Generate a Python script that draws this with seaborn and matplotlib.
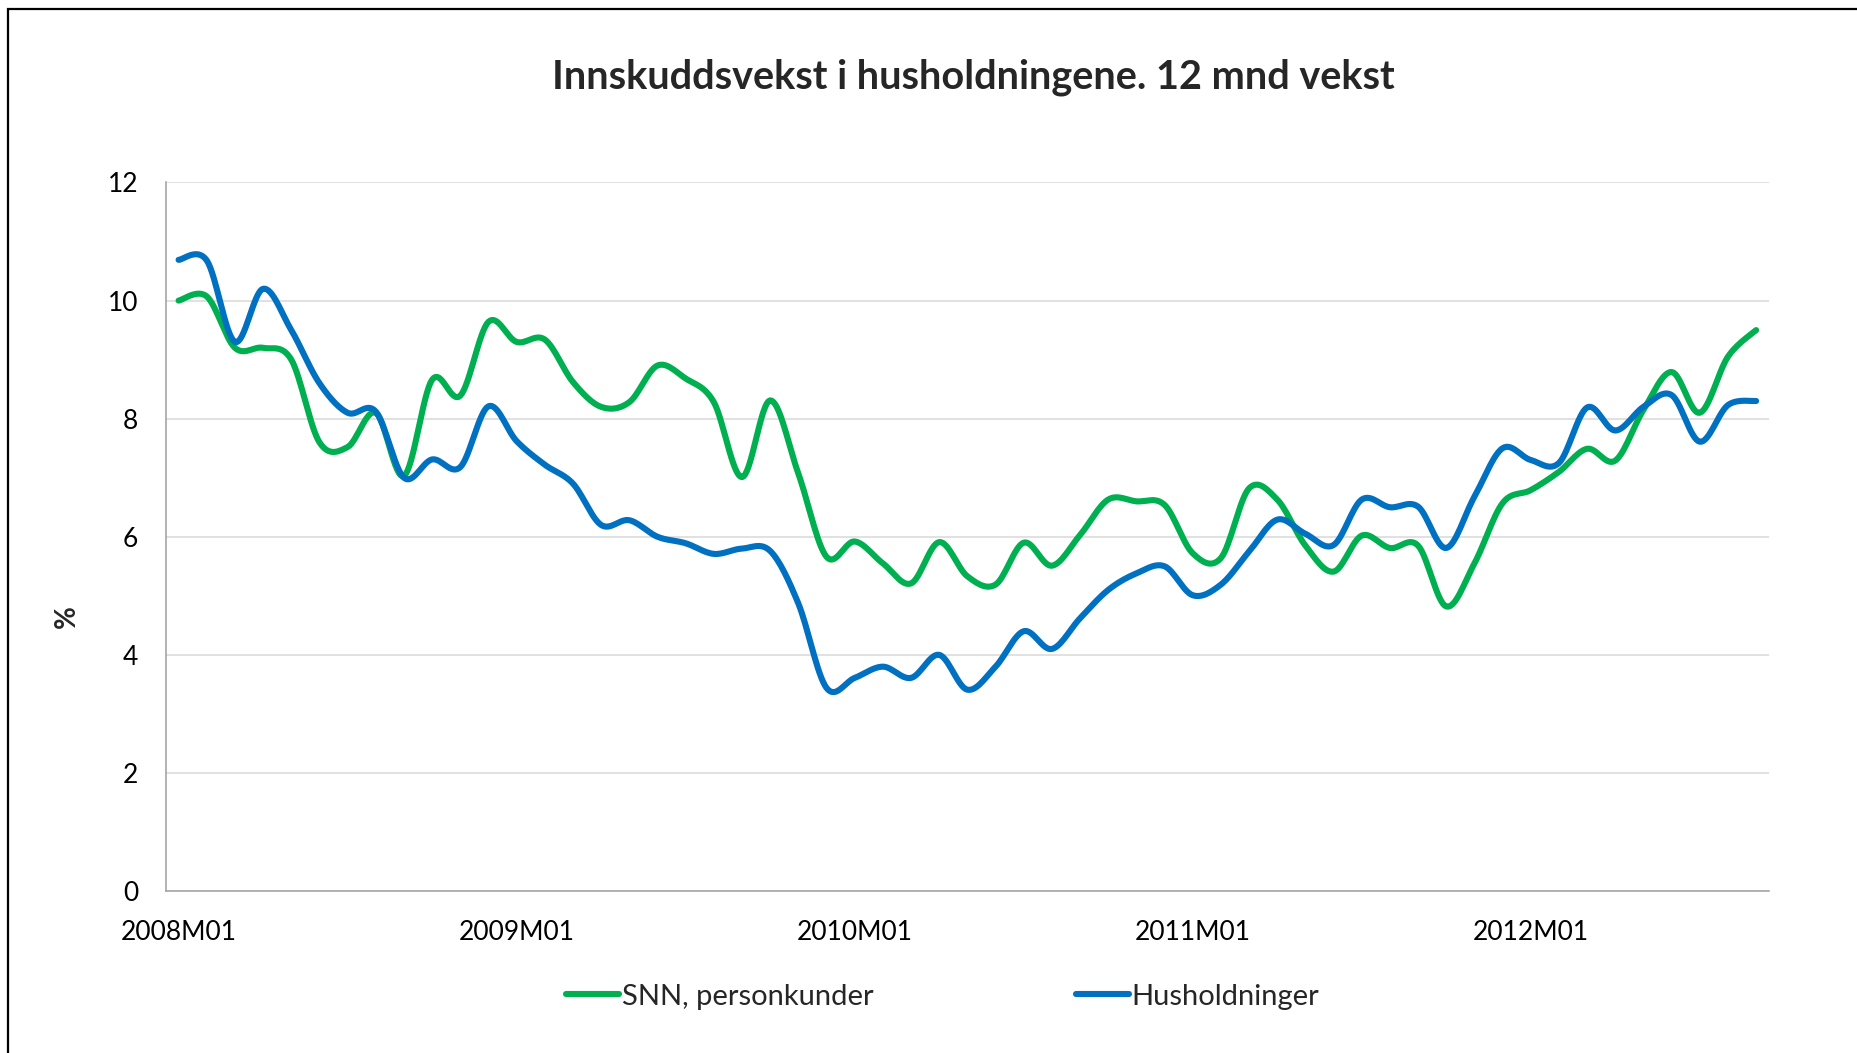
import numpy as np
import pandas as pd
import matplotlib.pyplot as plt
from matplotlib.patches import Rectangle
import seaborn as sns

# Månedlige observasjoner 2008M01 - 2012M09 (12 mnd vekst, %)
tick_pos = [0, 12, 24, 36, 48]
tick_labels = ['2008M01', '2009M01', '2010M01', '2011M01', '2012M01']

snn = [10.0, 10.07, 9.2, 9.2, 9.0, 7.6, 7.52, 8.1, 7.03, 8.66,
       8.39, 9.64, 9.3, 9.34, 8.62, 8.2, 8.28, 8.9, 8.68, 8.28,
       7.01, 8.31, 7.07, 5.66, 5.92, 5.55, 5.21, 5.91, 5.33, 5.19,
       5.9, 5.51, 6.03, 6.63, 6.6, 6.54, 5.72, 5.64, 6.82, 6.63,
       5.85, 5.41, 6.02, 5.81, 5.85, 4.82, 5.55, 6.57, 6.79, 7.1,
       7.49, 7.29, 8.15, 8.79, 8.1, 9.05, 9.5]

husholdninger = [10.69, 10.68, 9.3, 10.2, 9.5, 8.6, 8.1, 8.12, 7.0, 7.31,
                 7.18, 8.21, 7.62, 7.22, 6.9, 6.2, 6.28, 6.0, 5.89, 5.71,
                 5.8, 5.76, 4.87, 3.44, 3.61, 3.8, 3.61, 4.0, 3.41, 3.8,
                 4.4, 4.1, 4.62, 5.1, 5.38, 5.5, 5.01, 5.19, 5.75, 6.29,
                 6.05, 5.86, 6.63, 6.5, 6.51, 5.81, 6.68, 7.5, 7.3, 7.25,
                 8.19, 7.8, 8.2, 8.4, 7.61, 8.23, 8.3]

series = [('SNN, personkunder', snn, '#00B050'),
          ('Husholdninger', husholdninger, '#0070C0')]


def smooth(y, n=16):
    # Excel-aktig glatt linje: Bezier-segmenter gjennom hvert punkt
    y = np.asarray(y, dtype=float)
    x = np.arange(len(y), dtype=float)
    xp = np.concatenate([[x[0]], x, [x[-1]]])
    yp = np.concatenate([[y[0]], y, [y[-1]]])
    t = np.linspace(0, 1, n, endpoint=False)[:, None]
    out = []
    for i in range(len(y) - 1):
        p0 = np.array([x[i], y[i]])
        p3 = np.array([x[i + 1], y[i + 1]])
        p1 = p0 + (np.array([xp[i + 2], yp[i + 2]]) - np.array([xp[i], yp[i]])) / 6
        p2 = p3 - (np.array([xp[i + 3], yp[i + 3]]) - np.array([xp[i + 1], yp[i + 1]])) / 6
        seg = ((1 - t) ** 3) * p0 + 3 * ((1 - t) ** 2) * t * p1 + 3 * (1 - t) * t ** 2 * p2 + t ** 3 * p3
        out.append(seg)
    out.append(np.array([[x[-1], y[-1]]]))
    pts = np.vstack(out)
    return pd.DataFrame({'x': pts[:, 0], 'y': pts[:, 1]})


sns.set_theme(style='white')
plt.rcParams['font.family'] = ['Lato', 'DejaVu Sans']

fig = plt.figure(figsize=(18.58, 10.53), dpi=100)
ax = fig.add_subplot(111)
fig.subplots_adjust(left=0.0893, right=0.952, top=0.8267, bottom=0.1538)

for name, vals, col in series:
    sns.lineplot(data=smooth(vals), x='x', y='y', ax=ax, color=col, linewidth=4.4,
                 sort=False, estimator=None, label=name, solid_capstyle='round')

ax.set_xlim(-0.45, 56.45)
ax.set_ylim(0, 12)
ax.set_yticks(range(0, 13, 2))
ax.set_xticks(tick_pos)
ax.set_xticklabels(tick_labels)
ax.set_xlabel('')
ax.set_ylabel('')
ax.yaxis.grid(True, color='#d9d9d9', linewidth=1.1)
ax.set_axisbelow(True)
for s in ['top', 'right']:
    ax.spines[s].set_visible(False)
for s in ['left', 'bottom']:
    ax.spines[s].set_color('#a6a6a6')
    ax.spines[s].set_linewidth(1.2)
ax.tick_params(axis='both', length=0, labelsize=19, colors='black')
ax.tick_params(axis='y', pad=20)
ax.tick_params(axis='x', pad=21)

# tittel og aksetittel
fig.text(0.5237, 0.9268, 'Innskuddsvekst i husholdningene. 12 mnd vekst',
         ha='center', va='center', fontsize=28.5, fontweight='bold')
fig.text(67 / 1858, 1 - 617 / 1053, '%', rotation=90, ha='center', va='center',
         fontsize=20, fontweight='bold')

leg = ax.legend(loc='center', bbox_to_anchor=(0.5073, 0.0535), bbox_transform=fig.transFigure,
                ncol=2, frameon=False, fontsize=21, handlelength=1.82, handletextpad=0.1,
                columnspacing=6.95)
for h in leg.get_lines():
    h.set_linewidth(4.4)
    h.set_solid_capstyle('round')

# ramme rundt diagrammet
fig.add_artist(Rectangle((8 / 1858, -0.5), 2, 0.5 + 1 - 9 / 1053, transform=fig.transFigure,
                         fill=False, edgecolor='black', linewidth=1.6))

fig.savefig('out.png', dpi=100)
